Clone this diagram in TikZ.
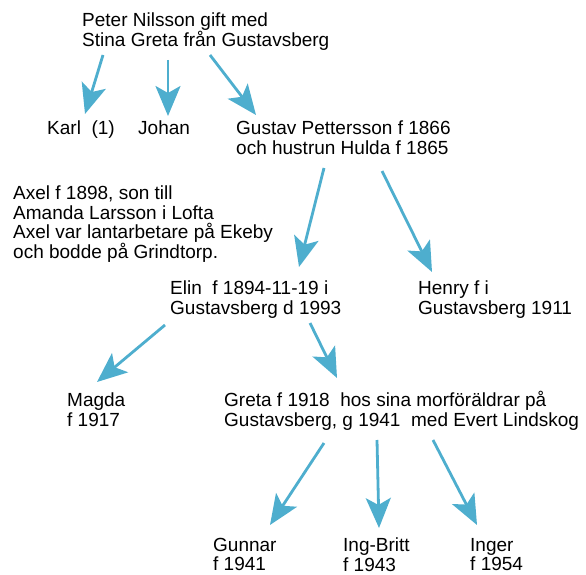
\documentclass[tikz,border=0pt]{standalone}
\usepackage{fontspec}
\setmainfont{Liberation Sans}
\usetikzlibrary{arrows.meta}
\definecolor{arrowblue}{RGB}{78,174,206}
\tikzset{
  txt/.style={anchor=north west, inner sep=0pt, align=left, font=\fontsize{19}{19.5}\selectfont},
  arr/.style={draw=arrowblue, line width=2.8pt, -{Stealth[length=30pt, width=25pt, inset=7pt]}},
}
\begin{document}
\begin{tikzpicture}[x=1pt, y=-1pt]
\useasboundingbox (0,0) rectangle (586,575);
\node[txt] (peter) at (82,13) {Peter Nilsson gift med\\Stina Greta från Gustavsberg};
\node[txt] (karl) at (47,121) {Karl\ \ (1)};
\node[txt] (johan) at (138,121) {Johan};
\node[txt] (gustav) at (236,121) {Gustav Pettersson f 1866\\och hustrun Hulda f 1865};
\node[txt] (axel) at (13,186) {Axel f 1898, son till\\Amanda Larsson i Lofta\\Axel var lantarbetare på Ekeby\\och bodde på Grindtorp.};
\node[txt] (elin) at (170,281) {Elin\ \ f 1894-11-19 i\\Gustavsberg d 1993};
\node[txt] (henry) at (418,281) {Henry f i\\Gustavsberg 1911};
\node[txt] (magda) at (67,393) {Magda\\f 1917};
\node[txt] (greta) at (224,391) {Greta f 1918\ \ hos sina morföräldrar på\\Gustavsberg, g 1941\ \ med Evert Lindskog};
\node[txt] (gunnar) at (213,538) {Gunnar\\f 1941};
\node[txt] (ingbritt) at (343,538) {Ing-Britt\\f 1943};
\node[txt] (inger) at (470,538) {Inger\\f 1954};

\draw[arr] ([shift={(21,42)}]peter.north west) -- ([shift={(38,-7)}]karl.north west);
\draw[arr] ([shift={(86,47)}]peter.north west) -- ([shift={(30,-5)}]johan.north west);
\draw[arr] ([shift={(128,42)}]peter.north west) -- ([shift={(20,-6)}]gustav.north west);
\draw[arr] ([shift={(88,47)}]gustav.north west) -- ([shift={(129,-14)}]elin.north west);
\draw[arr] ([shift={(146,50)}]gustav.north west) -- ([shift={(14,-9)}]henry.north west);
\draw[arr] ([shift={(-5,44)}]elin.north west) -- ([shift={(30,-11)}]magda.north west);
\draw[arr] ([shift={(140,42)}]elin.north west) -- ([shift={(113,-13)}]greta.north west);
\draw[arr] ([shift={(100,52)}]greta.north west) -- ([shift={(57,-13)}]gunnar.north west);
\draw[arr] ([shift={(153,49)}]greta.north west) -- ([shift={(36,-10)}]ingbritt.north west);
\draw[arr] ([shift={(209,49)}]greta.north west) -- ([shift={(7,-13)}]inger.north west);
\end{tikzpicture}
\end{document}
